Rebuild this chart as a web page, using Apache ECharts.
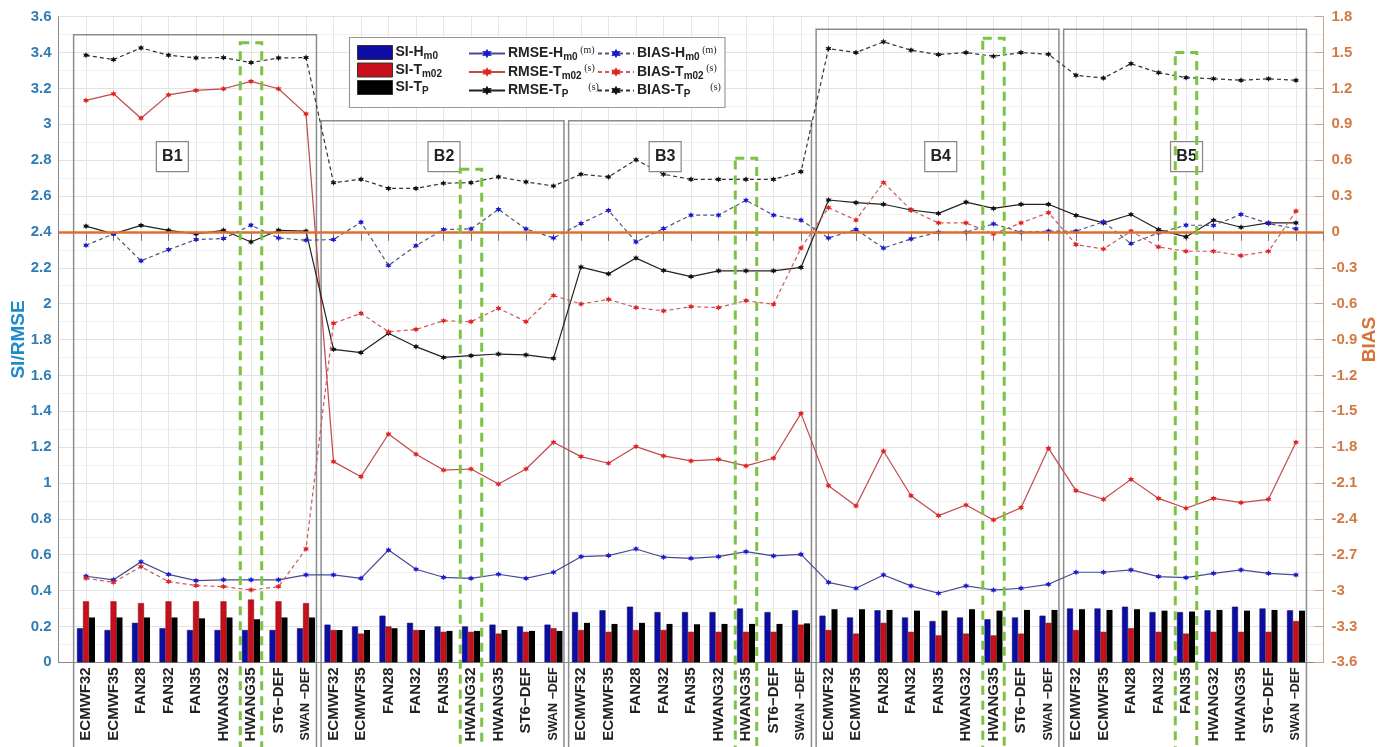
<!DOCTYPE html>
<html>
<head>
<meta charset="utf-8">
<script src="https://cdn.jsdelivr.net/npm/echarts@6/dist/echarts.min.js"></script>
<style>
html, body { margin: 0; padding: 0; background: #fff; }
#main { width: 1388px; height: 747px; }
</style>
</head>
<body>
<div id="main"></div>
<script>
// model names repeated in every box B1..B5
var models = ['ECMWF32', 'ECMWF35', 'FAN28', 'FAN32', 'FAN35', 'HWANG32', 'HWANG35', 'ST6\u2212DEF', 'SWAN \u2212DEF'];
var groups = ['B1', 'B2', 'B3', 'B4', 'B5'];
var chosen = [6, 5, 6, 6, 4]; // green dashed model per box

// SI bars (left axis)
var siHm0 = [
  0.19, 0.18, 0.22, 0.19, 0.18, 0.18, 0.18, 0.18, 0.19,
  0.21, 0.20, 0.26, 0.22, 0.20, 0.20, 0.21, 0.20, 0.21,
  0.28, 0.29, 0.31, 0.28, 0.28, 0.28, 0.30, 0.28, 0.29,
  0.26, 0.25, 0.29, 0.25, 0.23, 0.25, 0.24, 0.25, 0.26,
  0.30, 0.30, 0.31, 0.28, 0.28, 0.29, 0.31, 0.30, 0.29
];
var siTm02 = [
  0.34, 0.34, 0.33, 0.34, 0.34, 0.34, 0.35, 0.34, 0.33,
  0.18, 0.16, 0.20, 0.18, 0.17, 0.17, 0.16, 0.17, 0.19,
  0.18, 0.17, 0.18, 0.18, 0.17, 0.17, 0.17, 0.17, 0.21,
  0.18, 0.16, 0.22, 0.17, 0.15, 0.16, 0.15, 0.16, 0.22,
  0.18, 0.17, 0.19, 0.17, 0.16, 0.17, 0.17, 0.17, 0.23
];
var siTp = [
  0.25, 0.25, 0.25, 0.25, 0.245, 0.25, 0.24, 0.25, 0.25,
  0.18, 0.18, 0.19, 0.18, 0.175, 0.175, 0.18, 0.175, 0.175,
  0.22, 0.214, 0.22, 0.214, 0.212, 0.214, 0.214, 0.214, 0.217,
  0.296, 0.296, 0.292, 0.288, 0.288, 0.296, 0.288, 0.292, 0.292,
  0.296, 0.292, 0.296, 0.288, 0.283, 0.292, 0.288, 0.292, 0.288
];

// RMSE lines (left axis)
var rmseHm0 = [
  0.48, 0.46, 0.56, 0.49, 0.455, 0.46, 0.46, 0.46, 0.487,
  0.487, 0.468, 0.626, 0.519, 0.474, 0.468, 0.491, 0.468, 0.502,
  0.589, 0.595, 0.632, 0.586, 0.58, 0.589, 0.617, 0.593, 0.602,
  0.446, 0.413, 0.487, 0.426, 0.385, 0.426, 0.403, 0.413, 0.435,
  0.502, 0.502, 0.515, 0.478, 0.472, 0.496, 0.515, 0.496, 0.487
];
var rmseTm02 = [
  3.133, 3.17, 3.034, 3.164, 3.189, 3.198, 3.239, 3.198, 3.058,
  1.119, 1.035, 1.273, 1.16, 1.072, 1.078, 0.994, 1.078, 1.227,
  1.147, 1.11, 1.203, 1.151, 1.123, 1.132, 1.095, 1.138, 1.388,
  0.985, 0.872, 1.178, 0.929, 0.818, 0.877, 0.794, 0.862, 1.193,
  0.957, 0.909, 1.02, 0.914, 0.859, 0.914, 0.89, 0.909, 1.227
];
var rmseTp = [
  2.432, 2.389, 2.436, 2.409, 2.389, 2.409, 2.344, 2.409, 2.404,
  1.745, 1.727, 1.835, 1.76, 1.70, 1.71, 1.719, 1.714, 1.695,
  2.204, 2.166, 2.254, 2.185, 2.151, 2.183, 2.183, 2.183, 2.202,
  2.578, 2.563, 2.554, 2.522, 2.503, 2.566, 2.531, 2.554, 2.554,
  2.492, 2.45, 2.497, 2.413, 2.372, 2.465, 2.426, 2.45, 2.45
];

// BIAS lines (right axis)
var biasHm0 = [
  -0.112, -0.017, -0.242, -0.149, -0.064, -0.056, 0.056, -0.051, -0.07,
  -0.064, 0.081, -0.281, -0.115, 0.02, 0.025, 0.188, 0.025, -0.051,
  0.07, 0.18, -0.084, 0.028, 0.14, 0.14, 0.264, 0.14, 0.098,
  -0.051, 0.02, -0.135, -0.059, -0.003, -0.003, 0.067, -0.003, 0.006,
  0.006, 0.084, -0.098, -0.008, 0.056, 0.055, 0.146, 0.07, 0.026
];
var biasTm02 = [
  -2.897, -2.931, -2.80, -2.925, -2.958, -2.967, -2.995, -2.967, -2.652,
  -0.765, -0.681, -0.836, -0.816, -0.743, -0.751, -0.639, -0.751, -0.533,
  -0.603, -0.564, -0.633, -0.661, -0.625, -0.633, -0.575, -0.606, -0.135,
  0.203, 0.099, 0.413, 0.183, 0.075, 0.075, -0.017, 0.075, 0.161,
  -0.106, -0.143, 0.006, -0.126, -0.162, -0.162, -0.199, -0.162, 0.174
];
var biasTp = [
  1.478, 1.441, 1.539, 1.478, 1.455, 1.458, 1.416, 1.455, 1.458,
  0.412, 0.44, 0.364, 0.364, 0.407, 0.412, 0.46, 0.418, 0.384,
  0.482, 0.46, 0.603, 0.482, 0.44, 0.44, 0.44, 0.44, 0.504,
  1.533, 1.5, 1.59, 1.52, 1.483, 1.5, 1.469, 1.5, 1.486,
  1.31, 1.287, 1.407, 1.332, 1.29, 1.281, 1.268, 1.281, 1.268
];

// box decorations, in axis units (left axis value, category offset)
var boxTop = [3.5, 3.02, 3.02, 3.53, 3.53];
var boxLabelX = [4.14, 14.02, 22.06, 32.08, 41.02];
var greenTop = [3.455, 2.75, 2.81, 3.48, 3.40];

var cats = [];
groups.forEach(function (g) { models.forEach(function (m) { cats.push(m); }); });
var axisCats = [''].concat(cats, ['']);

function pts(arr) {
  return arr.map(function (v, i) { return [i + 1, v]; });
}

var FONT = 'Liberation Sans, Arial, sans-serif';
var STAR = 'path://M0,-10L2.6,-4.5L8.7,-5L5.2,0L8.7,5L2.6,4.5L0,10L-2.6,4.5L-8.7,5L-5.2,0L-8.7,-5L-2.6,-4.5Z';

function lineSeries(name, data, axis, lineColor, markColor, dashed) {
  return {
    name: name, type: 'line', yAxisIndex: axis, data: pts(data),
    symbol: STAR, symbolSize: 6, showAllSymbol: true,
    lineStyle: { color: lineColor, width: 1.2, type: dashed ? [4, 3] : 'solid' },
    itemStyle: { color: markColor },
    z: 4
  };
}

var legendNames = {
  'SI-Hm0': '{t|SI-H}{s|m0}',
  'SI-Tm02': '{t|SI-T}{s|m02}',
  'SI-Tp': '{t|SI-T}{s|P}',
  'RMSE-Hm0': '{t|RMSE-H}{s|m0}{u| (m)}',
  'RMSE-Tm02': '{t|RMSE-T}{s|m02}{u| (s)}',
  'RMSE-Tp': '{t|RMSE-T}{s|P}{u|        (s)}',
  'BIAS-Hm0': '{t|BIAS-H}{s|m0}{u| (m)}',
  'BIAS-Tm02': '{t|BIAS-T}{s|m02}{u| (s)}',
  'BIAS-Tp': '{t|BIAS-T}{s|P}{u|        (s)}'
};
var legendRich = {
  t: { fontSize: 14, fontWeight: 'bold', color: '#222', fontFamily: FONT },
  s: { fontSize: 10, fontWeight: 'bold', color: '#222', fontFamily: FONT, padding: [8, 0, 0, 0] },
  u: { fontSize: 10, color: '#222', fontFamily: 'Liberation Serif, serif', padding: [0, 0, 7, 0] }
};
function legendCfg(left, names, extra) {
  var cfg = {
    orient: 'vertical', left: left, top: 45, padding: 0, itemGap: 1,
    itemWidth: 36, itemHeight: 12, data: names,
    formatter: function (n) { return legendNames[n]; },
    textStyle: { rich: legendRich, padding: [0, 0, 0, -2] },
    z: 6
  };
  for (var k in extra) cfg[k] = extra[k];
  return cfg;
}

var option = {
  animation: false,
  backgroundColor: '#fff',
  textStyle: { fontFamily: FONT },
  grid: { left: 58.5, right: 64.5, top: 16.7, bottom: 84.7, containLabel: false, outerBoundsMode: 'none' },
  legend: [
    legendCfg(357, ['SI-Hm0', 'SI-Tm02', 'SI-Tp'], { icon: 'rect', itemWidth: 35, itemHeight: 14, itemStyle: { borderColor: '#333', borderWidth: 1 } }),
    legendCfg(468, ['RMSE-Hm0', 'RMSE-Tm02', 'RMSE-Tp'], {}),
    legendCfg(597, ['BIAS-Hm0', 'BIAS-Tm02', 'BIAS-Tp'], {})
  ],
  xAxis: [{
    type: 'category', data: axisCats, boundaryGap: false, position: 'bottom',
    axisLine: { lineStyle: { color: '#8a8a8a', width: 1 } },
    axisTick: { show: false },
    axisLabel: {
      interval: 0, rotate: 90, margin: 5, fontSize: 15, fontWeight: 'bold', color: '#222',
      formatter: function (v) { return v.indexOf('SWAN') === 0 ? '{s|' + v + '}' : v; },
      rich: { s: { fontSize: 12.5, fontWeight: 'bold', color: '#222' } }
    },
    splitLine: { show: true, interval: 0, lineStyle: { color: '#e6e6e6', width: 1 } }
  }, {
    type: 'category', data: axisCats, boundaryGap: false, position: 'top',
    axisLine: { lineStyle: { color: '#8a8a8a', width: 1 } },
    axisTick: { show: true, inside: true, interval: 0, length: 9, lineStyle: { color: '#777' } },
    axisLabel: { show: false },
    splitLine: { show: false }
  }],
  yAxis: [{
    type: 'value', min: 0, max: 3.6, interval: 0.2, position: 'left',
    name: 'SI/RMSE', nameLocation: 'middle', nameRotate: 90, nameGap: 30, nameMoveOverlap: false,
    nameTextStyle: { color: '#1f8bc9', fontSize: 19, fontWeight: 'bold' },
    axisLine: { show: true, lineStyle: { color: '#8a8a8a' } },
    axisTick: { show: false },
    axisLabel: { color: '#2f7cb6', fontSize: 15, fontWeight: 'bold', margin: 7 },
    splitLine: { lineStyle: { color: '#e2e2e2' } },
    minorTick: { show: false, splitNumber: 2 },
    minorSplitLine: { show: true, lineStyle: { color: '#f1f1f1' } }
  }, {
    type: 'value', min: -3.6, max: 1.8, interval: 0.3, position: 'right',
    name: 'BIAS', nameLocation: 'middle', nameRotate: 90, nameGap: 37, nameMoveOverlap: false,
    nameTextStyle: { color: '#d5743a', fontSize: 19, fontWeight: 'bold' },
    axisLine: { show: true, lineStyle: { color: '#c9a488' } },
    axisTick: { show: true, inside: true, length: 9, lineStyle: { color: '#c9a488' } },
    axisLabel: { color: '#d27a42', fontSize: 15, fontWeight: 'bold', margin: 8 },
    splitLine: { show: false }
  }],
  series: [
    { name: 'SI-Hm0', type: 'bar', data: pts(siHm0), barWidth: 6, barGap: '0%',
      itemStyle: { color: '#0d0da6', borderColor: '#0a0a60', borderWidth: 0.5 }, z: 2 },
    { name: 'SI-Tm02', type: 'bar', data: pts(siTm02), barWidth: 6, barGap: '0%',
      itemStyle: { color: '#c8101c', borderColor: '#700a10', borderWidth: 0.5 }, z: 2 },
    { name: 'SI-Tp', type: 'bar', data: pts(siTp), barWidth: 6, barGap: '0%',
      itemStyle: { color: '#000' }, z: 2 },
    lineSeries('RMSE-Hm0', rmseHm0, 0, '#474a90', '#1a1ad0', false),
    lineSeries('RMSE-Tm02', rmseTm02, 0, '#c04a48', '#e02424', false),
    lineSeries('RMSE-Tp', rmseTp, 0, '#222', '#111', false),
    lineSeries('BIAS-Hm0', biasHm0, 1, '#50547e', '#1a1ad0', true),
    lineSeries('BIAS-Tm02', biasTm02, 1, '#cc5a58', '#e02424', true),
    (function () {
      var s = lineSeries('BIAS-Tp', biasTp, 1, '#333', '#111', true);
      s.markLine = {
        silent: true, symbol: 'none', label: { show: false },
        lineStyle: { color: '#dc7030', width: 2.5, type: 'solid' },
        data: [{ yAxis: 0 }]
      };
      return s;
    })()
  ]
};

var chart = echarts.init(document.getElementById('main'));
chart.setOption(option);

// annotation boxes placed through the axes
var x0 = chart.convertToPixel({ xAxisIndex: 0 }, 0);
var dx = chart.convertToPixel({ xAxisIndex: 0 }, 1) - x0;
function X(u) { return x0 + u * dx; }
function Y(v) { return chart.convertToPixel({ yAxisIndex: 0 }, v); }

var gfx = [];
// legend frame
gfx.push({ type: 'rect', shape: { x: 349.5, y: 37.5, width: 375.5, height: 70 },
  style: { fill: '#fff', stroke: '#9a9a9a', lineWidth: 1.2 }, z: 5 });
groups.forEach(function (g, k) {
  var l = X(9 * k + 0.55), r = X(9 * k + 9.38);
  gfx.push({ type: 'rect', shape: { x: l, y: Y(boxTop[k]), width: r - l, height: 760 - Y(boxTop[k]) },
    style: { fill: 'none', stroke: '#8c8c8c', lineWidth: 1.5 }, z: 3 });
  var c = 9 * k + chosen[k] + 1;
  var gl = X(c - 0.39), gr = X(c + 0.39);
  gfx.push({ type: 'rect', shape: { x: gl, y: Y(greenTop[k]), width: gr - gl, height: 780 - Y(greenTop[k]) },
    style: { fill: 'none', stroke: '#7cc243', lineWidth: 3, lineDash: [9, 6] }, z: 7 });
  var cx = X(boxLabelX[k]), cy = Y(2.82);
  gfx.push({ type: 'rect', shape: { x: cx - 16, y: cy - 15, width: 32, height: 30 },
    style: { fill: '#fff', stroke: '#888', lineWidth: 1.2 }, z: 5 });
  gfx.push({ type: 'text', x: cx, y: cy, z: 6,
    style: { text: g, fill: '#222', font: 'bold 16px ' + FONT, align: 'center', verticalAlign: 'middle' } });
});
chart.setOption({ graphic: gfx });
</script>
</body>
</html>
